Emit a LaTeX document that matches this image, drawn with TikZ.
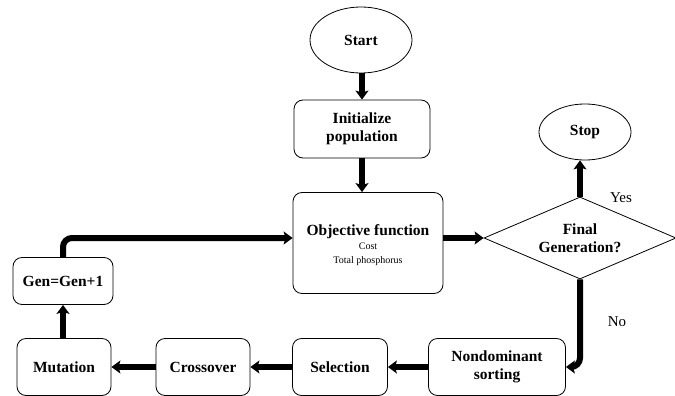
\documentclass[tikz,border=0pt]{standalone}
\usepackage{fontspec}
\setmainfont{Liberation Serif}
\usetikzlibrary{shapes.geometric,arrows.meta}
\begin{document}
\begin{tikzpicture}[x=1pt,y=-1pt,
  boxstyle/.style={draw,line width=0.8pt,rounded corners=9pt,align=center,font=\bfseries\fontsize{15.5}{18}\selectfont,inner sep=0pt},
  ovalstyle/.style={draw,ellipse,line width=0.8pt,font=\bfseries\fontsize{15.5}{18}\selectfont,inner sep=0pt},
  flow/.style={line width=6pt,-{Stealth[length=9pt,width=13pt,inset=2pt]},rounded corners=9pt},
  lbl/.style={font=\fontsize{15}{17}\selectfont}]
\useasboundingbox (0,0) rectangle (675,396);
\node[ovalstyle,minimum width=102pt,minimum height=66pt] (start) at (361,40) {Start};
\node[boxstyle,minimum width=136pt,minimum height=58pt] (init) at (362,129) {Initialize\\population};
\node[boxstyle,minimum width=150pt,minimum height=101pt] (obj) at (368,243) {};
\node[align=center,font=\bfseries\fontsize{15.5}{18}\selectfont] (objt) at (368,232) {Objective function};
\node[align=center,font=\fontsize{10}{14}\selectfont] (objs) at (368,254) {Cost\\Total phosphorus};
\node[draw,diamond,aspect=2.35,line width=0.8pt,minimum width=192pt,minimum height=82pt,inner sep=0pt,align=center,font=\bfseries\fontsize{15.5}{18}\selectfont] (dec) at (580,238) {Final\\Generation?};
\node[ovalstyle,minimum width=92pt,minimum height=56pt] (stop) at (585,132) {Stop};
\node[boxstyle,minimum width=137pt,minimum height=57pt] (nds) at (497,367) {Nondominant\\sorting};
\node[boxstyle,minimum width=95pt,minimum height=57pt] (sel) at (340,367) {Selection};
\node[boxstyle,minimum width=94pt,minimum height=57pt] (cro) at (203,367) {Crossover};
\node[boxstyle,minimum width=94pt,minimum height=57pt] (mut) at (64,367) {Mutation};
\node[boxstyle,minimum width=100pt,minimum height=47pt] (gen) at (63,281) {Gen=Gen+1};
\node[lbl] (yes) at (621,198) {Yes};
\node[lbl] (no) at (617,322) {No};
\draw[flow] (start.south -| init.north) -- (init.north);
\draw[flow] (init.south) -- (init.south |- obj.north);
\draw[flow] (obj.east |- dec.west) -- (dec.west);
\draw[flow] (dec.north) -- (dec.north |- stop.south);
\draw[flow] (dec.south) |- (nds.east);
\draw[flow] (nds.west) -- (sel.east);
\draw[flow] (sel.west) -- (cro.east);
\draw[flow] (cro.west) -- (mut.east);
\draw[flow] (mut.north -| gen.north) -- (gen.south);
\draw[flow] (gen.north) |- (obj.west |- dec.west);
\end{tikzpicture}
\end{document}
